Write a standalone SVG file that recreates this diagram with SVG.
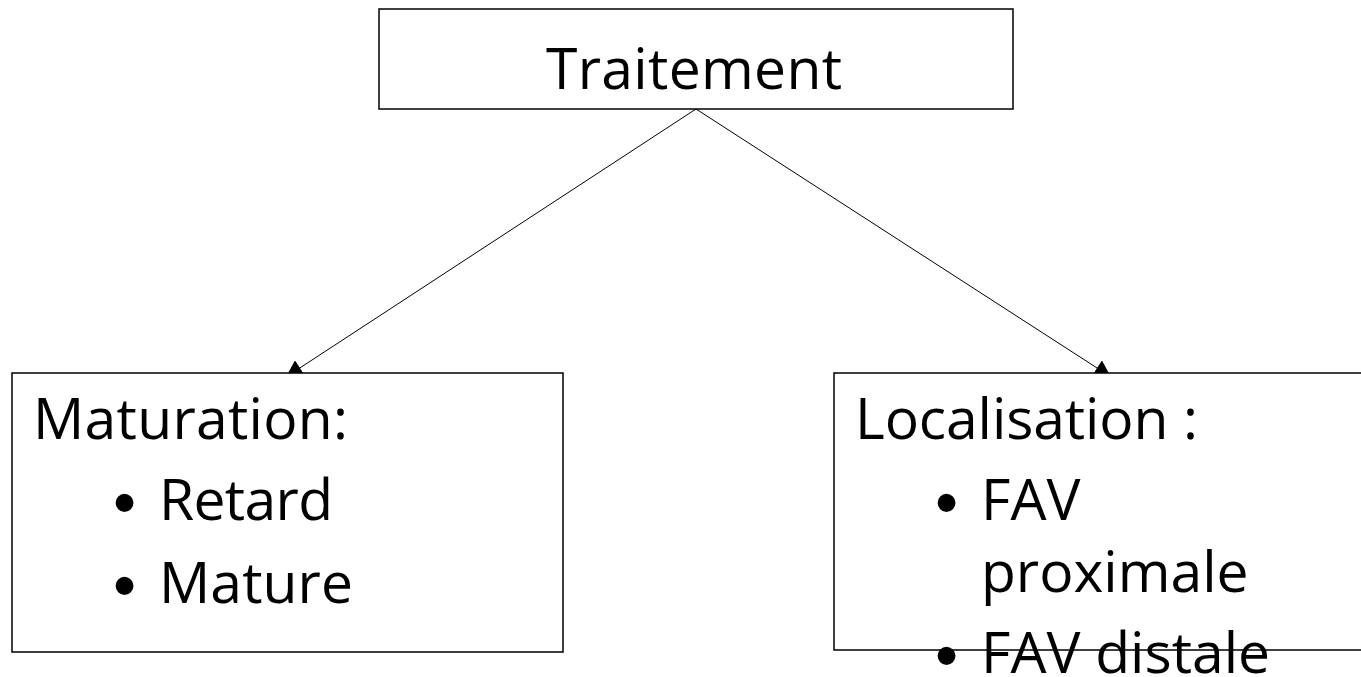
<svg xmlns="http://www.w3.org/2000/svg" width="1361" height="677" viewBox="0 0 1361 677">
<style>
  .box { fill: #ffffff; stroke: #000000; stroke-width: 1.5; }
  .conn { stroke: #000000; stroke-width: 1; fill: none; marker-end: url(#arrow); }
  .t { font-family: "Open Sans", "Liberation Sans", sans-serif; font-size: 57px; fill: #000000; }
  .b { font-family: "Liberation Sans", "DejaVu Sans", sans-serif; font-size: 66px; fill: #000000; }
</style>
<defs>
  <marker id="arrow" markerUnits="userSpaceOnUse" markerWidth="17" markerHeight="18" viewBox="0 0 16.6 18" refX="16.6" refY="9" orient="auto">
    <path d="M0,0 L16.6,9 L0,18 z" fill="#000000"/>
  </marker>
</defs>
<rect width="1361" height="677" fill="#ffffff"/>
<g id="connectors">
  <line class="conn" x1="696" y1="109" x2="286" y2="377"/>
  <line class="conn" x1="696" y1="109" x2="1111" y2="377"/>
</g>
<g id="node-traitement">
  <rect class="box" x="379" y="9" width="634" height="100"/>
  <text class="t" x="546" y="89" textLength="296">Traitement</text>
</g>
<g id="node-maturation">
  <rect class="box" x="12" y="373" width="551" height="279"/>
  <text class="t" x="33" y="439" textLength="315">Maturation:</text>
  <text class="b" x="113" y="525">•</text>
  <text class="t" x="159" y="520" textLength="174">Retard</text>
  <text class="b" x="113" y="608">•</text>
  <text class="t" x="159" y="603" textLength="194">Mature</text>
</g>
<g id="node-localisation">
  <rect class="box" x="834" y="373" width="600" height="277"/>
  <text class="t" x="855" y="439" textLength="343">Localisation :</text>
  <text class="b" x="935" y="525">•</text>
  <text class="t" x="981" y="520">FAV</text>
  <text class="t" x="981" y="592">proximale</text>
  <text class="b" x="935" y="678">•</text>
  <text class="t" x="981" y="673">FAV distale</text>
</g>
</svg>
